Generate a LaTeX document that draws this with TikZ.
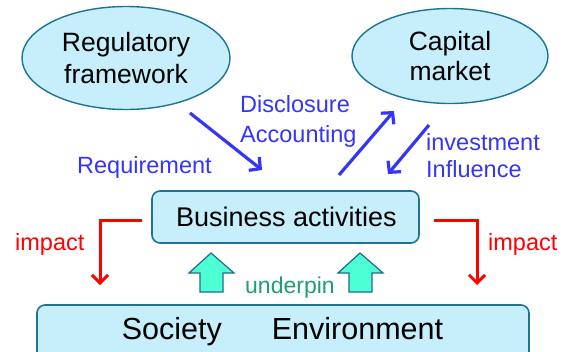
\documentclass[tikz,border=0pt]{standalone}
\usepackage{fontspec}
\setmainfont{Liberation Sans}
\usetikzlibrary{shapes.geometric,arrows.meta}
\definecolor{panelfill}{HTML}{C6EEFB}
\definecolor{panelline}{HTML}{1C7395}
\definecolor{linkblue}{HTML}{3535F5}
\definecolor{impactred}{HTML}{FF0000}
\definecolor{supportfill}{HTML}{4DFFD4}
\definecolor{supportline}{HTML}{1F6B8C}
\definecolor{supporttext}{HTML}{1C9E78}
\tikzset{
  party/.style={ellipse, draw=panelline, fill=panelfill, line width=1.4pt,
    inner sep=0pt, align=center, text=black},
  panel/.style={draw=panelline, fill=panelfill, line width=1.6pt,
    rounded corners=8pt},
  flowlabel/.style={text=linkblue, font=\fontsize{23.5}{30}\selectfont,
    anchor=base west, inner sep=0pt, align=left},
  flow/.style={draw=linkblue, line width=3.2pt,
    -{Straight Barb[length=8pt,width=17pt,line width=3.2pt]}},
  impactarrow/.style={draw=impactred, line width=3pt,
    -{Straight Barb[length=8pt,width=16pt,line width=3pt]}},
  impactlabel/.style={text=impactred, font=\fontsize{23.5}{28}\selectfont,
    anchor=base west, inner sep=0pt},
  support/.style={draw=supportline, fill=supportfill, line width=1.2pt,
    line join=miter}
}
\begin{document}
\begin{tikzpicture}[x=1pt,y=-1pt]
  \useasboundingbox (0,0) rectangle (567,351);

  % the two outside parties
  \node[party, minimum width=208pt, minimum height=103pt,
    font=\fontsize{26.5}{32}\selectfont] (reg) at (126,58)
    {Regulatory\\framework};
  \node[party, minimum width=196pt, minimum height=95pt,
    font=\fontsize{26.5}{30}\selectfont] (cap) at (450,56)
    {Capital\\market};

  % business activities box
  \draw[panel] (152,191) rectangle (419,243);
  \node[font=\fontsize{27}{30}\selectfont, inner sep=0pt] (biz) at (286.5,217)
    {Business activities};
  \coordinate (bizW) at (152,220);
  \coordinate (bizE) at (419,220);

  % society and environment base
  \draw[panel] (37,305) rectangle (529,372);
  \node[font=\fontsize{30.5}{32}\selectfont, inner sep=0pt, anchor=base]
    (soc) at (282.5,339) {Society\hspace{50pt}Environment};
  \coordinate (socL) at (100,305);
  \coordinate (socR) at (477,305);

  % information and capital flows
  \coordinate (reqA) at (190,113);
  \coordinate (reqB) at (262,170);
  \coordinate (disA) at (339,175);
  \coordinate (disB) at (394,111);
  \coordinate (invA) at (429,125);
  \coordinate (invB) at (388,174);
  \draw[flow] (reqA) -- (reqB);
  \draw[flow] (disA) -- (disB);
  \draw[flow] (invA) -- (invB);

  \node[flowlabel] (req) at (77,173) {Requirement};
  \node[flowlabel] (dis) at (240,112) {Disclosure};
  \node[flowlabel] (acc) at (240,142) {Accounting};
  \node[flowlabel] (inv) at (426,150) {investment};
  \node[flowlabel] (inf) at (426,177) {Influence};

  % impacts on society and environment
  \draw[impactarrow] ([xshift=-10pt]bizW) -| ([yshift=20pt]socL);
  \draw[impactarrow] ([xshift=15pt]bizE) -| ([yshift=20pt]socR);
  \node[impactlabel] (impL) at (15,250) {impact};
  \node[impactlabel] (impR) at (488,250) {impact};

  % underpinning arrows
  \draw[support] (211,253) -- (234,273) -- (223,273) -- (223,292)
    -- (200,292) -- (200,273) -- (189,273) -- cycle;
  \draw[support] (360,253) -- (383,273) -- (372,273) -- (372,292)
    -- (349,292) -- (349,273) -- (338,273) -- cycle;
  \node[text=supporttext, font=\fontsize{23}{28}\selectfont,
    anchor=base west, inner sep=0pt] (und) at (245,293) {underpin};
\end{tikzpicture}
\end{document}
